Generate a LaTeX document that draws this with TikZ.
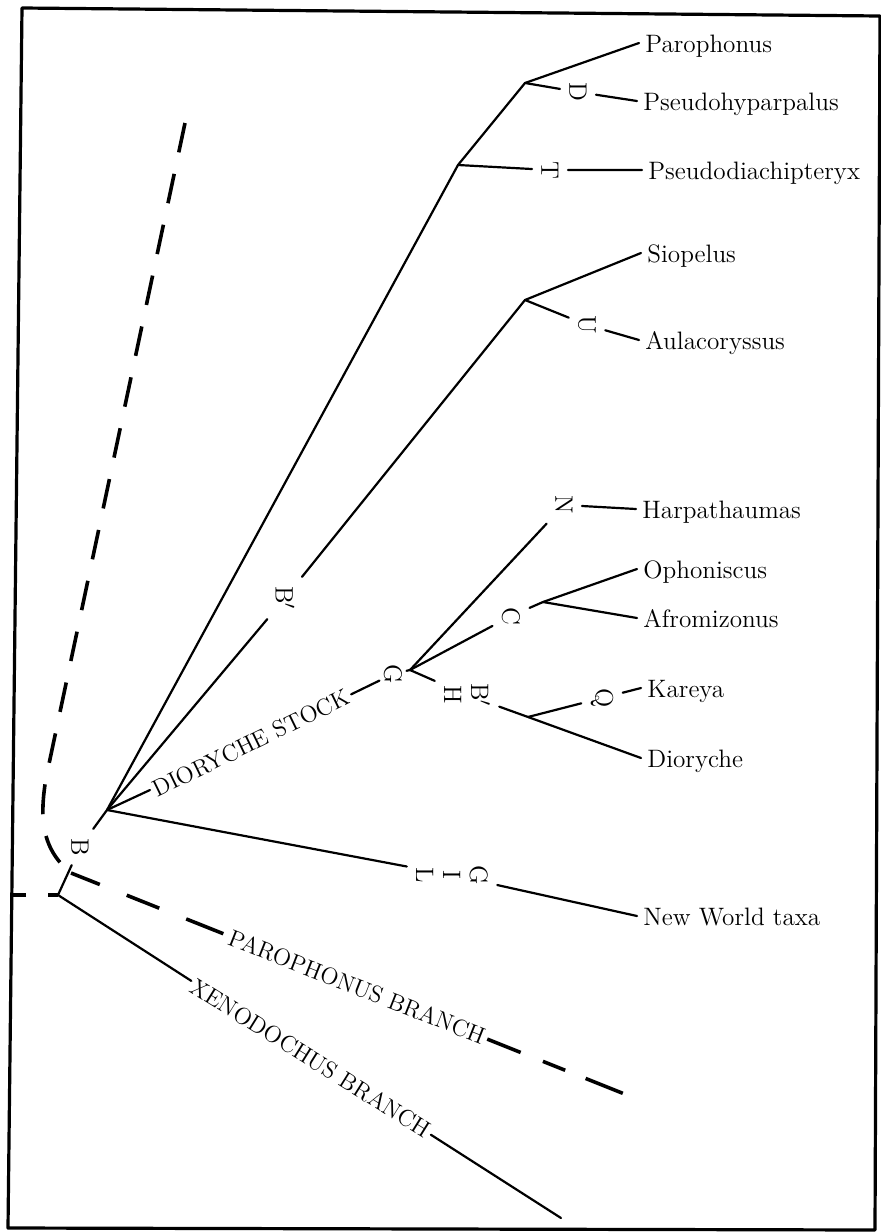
\documentclass[tikz,border=0pt]{standalone}
\usepackage{fontspec}
\newcommand\lblfont{\fontsize{12.6}{15}\selectfont}
\newcommand\stkfont{\fontsize{12.6}{13.5}\selectfont}
\newcommand\capfont{\fontsize{11.8}{14}\selectfont}
\begin{document}
\begin{tikzpicture}[x=0.5pt,y=-0.5pt,
  br/.style={line width=1.1pt, line cap=round},
  dsh/.style={line width=1.8pt, dash pattern=on 15pt off 11pt},
  frm/.style={line width=1.6pt, line join=round},
  taxon/.style={anchor=base west, inner xsep=3pt, inner ysep=0pt, text height=9pt, text depth=0pt, font=\lblfont},
  mk/.style={rotate=-90, inner sep=4.5pt, font=\lblfont, align=center},
  stk/.style={mk, font=\stkfont},
  caplbl/.style={inner xsep=1.5pt, inner ysep=0pt, font=\capfont}
]
\useasboundingbox (0,0) rectangle (880,1232);
% frame
\draw[frm] (22,8) -- (880,16) -- (875,1230) -- (8,1228) -- cycle;

% points
\coordinate (R) at (58,895);
\coordinate (FL) at (13,895);
\coordinate (N1) at (107,810);
\coordinate (Nt) at (458,165);
\coordinate (Nd) at (525,83);
\coordinate (Nu) at (525,300);
\coordinate (NG) at (410,670);
\coordinate (NC) at (543,602);
\coordinate (NQ) at (528,717);
\coordinate (PBe) at (632,1097);
\coordinate (XBe) at (561,1218);
\coordinate (J) at (71,873);
\coordinate (Dtop) at (185,123);
\coordinate (Dbend) at (46,778);

% branch marks
\node[mk] (B) at (80,847) {B};
\node[mk] (D) at (578,92) {D};
\node[mk] (T) at (550,170) {T};
\node[mk] (U) at (587,325) {U};
\node[mk] (Bp) at (285,598) {B$'$};
\node[caplbl, rotate=26] (DS) at (251,743) {DIORYCHE STOCK};
\node[mk, inner sep=2pt] (G) at (393,674) {G};
\node[mk] (N) at (564,505) {N};
\node[mk] (C) at (511,616) {C};
\node[stk] (HB) at (467,695) {B$'$\\H};
\node[mk] (Q) at (602,698) {Q};
\node[stk] (GIL) at (452,875) {G\\I\\L};
\node[caplbl, rotate=-21.5] (PB) at (357,987) {PAROPHONUS BRANCH};
\node[caplbl, rotate=-32] (XB) at (311,1058) {XENODOCHUS BRANCH};

% taxa
\node[taxon] (t1) at (639,52) {Parophonus};
\node[taxon] (t2) at (637,110) {Pseudohyparpalus};
\node[taxon] (t3) at (642,179) {Pseudodiachipteryx};
\node[taxon] (t4) at (641,262) {Siopelus};
\node[taxon] (t5) at (639,349) {Aulacoryssus};
\node[taxon] (t6) at (636,518) {Harpathaumas};
\node[taxon] (t7) at (637,578) {Ophoniscus};
\node[taxon] (t8) at (637,627) {Afromizonus};
\node[taxon] (t9) at (641,697) {Kareya};
\node[taxon] (t10) at (641,767) {Dioryche};
\node[taxon] (t11) at (637,925) {New World taxa};

% solid branches
\draw[br] (R) -- (B) -- (N1);
\draw[br] (N1) -- (Nt) -- (Nd) -- (t1.west);
\draw[br] (Nd) -- (D) -- (t2.west);
\draw[br] (Nt) -- (T) -- (t3.west);
\draw[br] (N1) -- (Bp) -- (Nu) -- (t4.west);
\draw[br] (Nu) -- (U) -- (t5.west);
\draw[br] (N1) -- (DS) -- (G) -- (NG);
\draw[br] (NG) -- (N) -- (t6.west);
\draw[br] (NG) -- (C) -- (NC) -- (t7.west);
\draw[br] (NC) -- (t8.west);
\draw[br] (NG) -- (HB) -- (NQ) -- (t10.west);
\draw[br] (NQ) -- (Q) -- (t9.west);
\draw[br] (N1) -- (GIL) -- (t11.west);
\draw[br] (R) -- (XB) -- (XBe);

% dashed lines
\draw[dsh] (Dtop) -- (Dbend) .. controls (40,815) and (40,848) .. (J);
\draw[dsh, dash pattern=on 15.5pt off 14.5pt on 17.5pt off 14.5pt on 20pt] (J) -- (PB);
\draw[dsh, dash pattern=on 18pt off 12pt on 12pt off 11pt on 20pt] (PB) -- (PBe);
\draw[line width=1.8pt, dash pattern=on 5pt off 11pt on 7pt off 20pt] (R) -- (FL);
\end{tikzpicture}
\end{document}
